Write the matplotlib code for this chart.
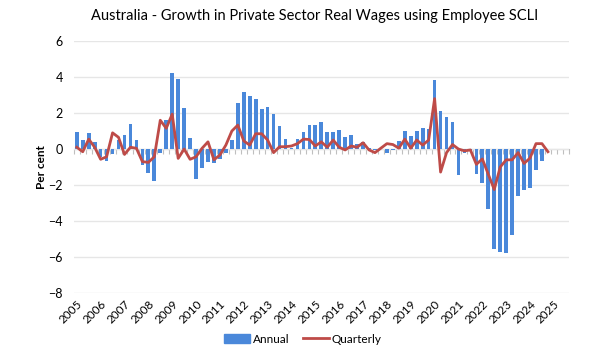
import numpy as np
import matplotlib
matplotlib.use("Agg")
import matplotlib.pyplot as plt
from matplotlib.patches import Patch
from matplotlib.lines import Line2D

# annual growth (%), quarterly from 2005 Q2
annual = [0.93, 0.5, 0.87, 0.37, -0.43, -0.65, -0.3, 0.5, 0.78, 1.37,
          0.5, -0.9, -1.35, -1.8, -0.2, 1.6, 4.24, 3.9, 2.26, 0.63,
          -1.69, -1.07, -0.7, -0.8, -0.57, -0.2, 0.48, 2.54, 3.19, 2.96,
          2.76, 2.24, 2.33, 1.96, 1.28, 0.54, 0.05, 0.54, 0.96, 1.35,
          1.35, 1.48, 0.96, 0.96, 1.04, 0.65, 0.76, 0.3, 0.4, 0.05,
          -0.05, 0.0, -0.2, -0.05, 0.46, 1.0, 0.72, 1.0, 1.18, 1.1,
          3.83, 2.13, 1.76, 1.52, -1.44, -0.2, -0.12, -1.4, -1.9, -3.35,
          -5.55, -5.7, -5.75, -4.8, -2.6, -2.3, -2.15, -1.17, -0.67]

quarterly = [0.1, -0.15, 0.55, 0.1, -0.57, -0.43, 0.9, 0.65, -0.3, 0.1,
             0.04, -0.7, -0.74, -0.43, 1.6, 1.15, 1.94, -0.52, 0.0, -0.57,
             -0.43, 0.04, 0.4, -0.6, -0.33, 0.22, 1.0, 1.33, 0.45, 0.22,
             0.85, 0.85, 0.5, -0.2, 0.13, 0.13, 0.17, 0.3, 0.55, 0.53,
             0.17, 0.4, 0.1, 0.5, 0.1, -0.05, 0.17, 0.1, 0.35, -0.05,
             -0.2, 0.05, 0.3, 0.25, 0.05, 0.55, 0.05, 0.5, 0.22, 0.5,
             2.8, -1.28, -0.2, 0.25, 0.0, -0.1, -0.05, -0.85, -0.55, -1.4,
             -2.25, -1.0, -0.6, -0.6, -0.2, -0.8, -0.5, 0.3, 0.3, -0.15]

years = [str(y) for y in range(2005, 2026)]
n_cats = 83  # 2005 Q2 .. 2025 Q4

plt.rcParams['font.family'] = ['Lato', 'DejaVu Sans']

fig = plt.figure(figsize=(6, 3.6), dpi=100)
ax = fig.add_axes([0.123, 0.186, 0.825, 0.7])

blue = '#4a88da'
red = '#be4b48'

ax.bar(np.arange(len(annual)), annual, width=0.62, color=blue, zorder=2)
ax.plot(np.arange(len(quarterly)), quarterly, color=red, lw=2.0, zorder=3,
        solid_joinstyle='round')

ax.set_xlim(-0.5, n_cats - 0.5)
ax.set_ylim(-8, 6)
ax.set_yticks(np.arange(-8, 7, 2))
ax.yaxis.grid(True, color='#e6e6e6', lw=1, zorder=0)
ax.tick_params(axis='y', length=0, labelsize=9, pad=8)

for s in ['top', 'right', 'left']:
    ax.spines[s].set_visible(False)
ax.spines['bottom'].set_position(('data', 0))
ax.spines['bottom'].set_color('#bfbfbf')
ax.spines['bottom'].set_zorder(1)
ax.set_xticks(np.arange(-0.5, n_cats, 1))
ax.tick_params(axis='x', length=3.5, color='#bfbfbf', labelbottom=False)

sec = ax.secondary_xaxis('bottom')
sec.set_xticks(np.arange(0, len(years) * 4, 4))
sec.set_xticklabels(years, rotation=45, ha='right', rotation_mode='anchor',
                    fontsize=8.5)
sec.tick_params(length=0, pad=4)
sec.spines['bottom'].set_visible(False)

ax.set_ylabel('Per cent', fontsize=8.5, fontweight='bold', labelpad=1)

fig.suptitle('Australia - Growth in Private Sector Real Wages using Employee SCLI',
             fontsize=10.5, x=0.525, y=0.975)

handles = [Patch(color=blue, label='Annual'),
           Line2D([], [], color=red, lw=2.0, label='Quarterly')]
fig.legend(handles=handles, loc='center', bbox_to_anchor=(0.505, 0.058),
           ncol=2, frameon=False, fontsize=8.5, handlelength=2.2,
           handleheight=0.7, columnspacing=1.2, handletextpad=0.2)

fig.savefig('out.png', dpi=100)
